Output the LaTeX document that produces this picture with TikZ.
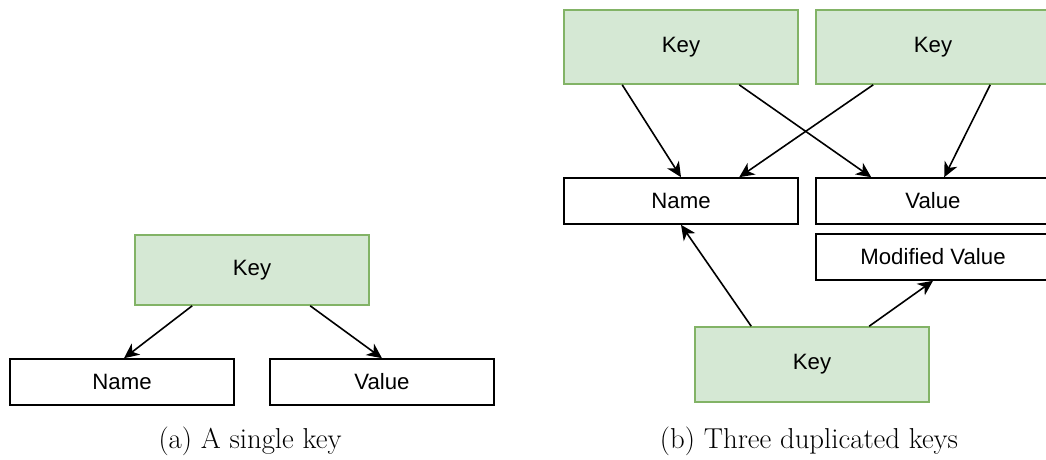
\documentclass[tikz,border=0pt]{standalone}
\usepackage{fontspec}
\newfontfamily\boxfont{Liberation Sans}
\usetikzlibrary{arrows.meta,calc}
\definecolor{keyfill}{HTML}{D5E8D4}
\definecolor{keyline}{HTML}{82B366}
\tikzset{
  keybox/.style={draw=keyline, fill=keyfill, line width=1.6pt,
    minimum width=234pt, minimum height=72pt, inner sep=0pt,
    font=\boxfont\fontsize{22.2}{25}\selectfont},
  fieldbox/.style={draw=black, line width=1.6pt,
    minimum width=224pt, minimum height=46pt, inner sep=0pt,
    font=\boxfont\fontsize{22.2}{25}\selectfont},
  link/.style={draw=black, line width=1.6pt,
    -{Stealth[length=15pt, width=14pt, inset=4.5pt]}},
  caption/.style={font=\fontsize{28.8}{32}\selectfont, inner sep=0pt}
}
\begin{document}
\begin{tikzpicture}[x=1pt, y=-1pt]
\useasboundingbox (0,0) rectangle (1046,459);

% (a) a single key
\node[keybox, minimum height=70pt] (ka) at (252,270) {Key};
\node[fieldbox] (na) at (122,382) {Name};
\node[fieldbox] (va) at (382,382) {Value};
\draw[link] ([xshift=58pt]ka.south west) -- ([xshift=2pt]na.north);
\draw[link] ([xshift=176pt]ka.south west) -- (va.north);
\node[caption] (capa) at (250,441) {(a) A single key};

% (b) three duplicated keys
\node[keybox, minimum height=74pt] (k1) at (681,47) {Key};
\node[keybox, minimum height=74pt] (k2) at (933,47) {Key};
\node[fieldbox, minimum width=234pt] (nb) at (681,201) {Name};
\node[fieldbox, minimum width=234pt] (vb) at (933,201) {Value};
\node[fieldbox, minimum width=234pt] (mv) at (933,257) {Modified Value};
\node[keybox, minimum height=75pt] (k3) at (812,364.5) {Key};

\draw[link] ([xshift=59pt]k1.south west) -- (nb.north);
\draw[link] ([xshift=176pt]k1.south west) -- ([xshift=56pt]vb.north west);
\draw[link] ([xshift=58pt]k2.south west) -- ([xshift=176pt]nb.north west);
\draw[link] ([xshift=175pt]k2.south west) -- ([xshift=129pt]vb.north west);
\draw[link] ([xshift=57pt]k3.north west) -- (nb.south);
\draw[link] ([xshift=175pt]k3.north west) -- (mv.south);
\node[caption] (capb) at (809,441) {(b) Three duplicated keys};
\end{tikzpicture}
\end{document}
